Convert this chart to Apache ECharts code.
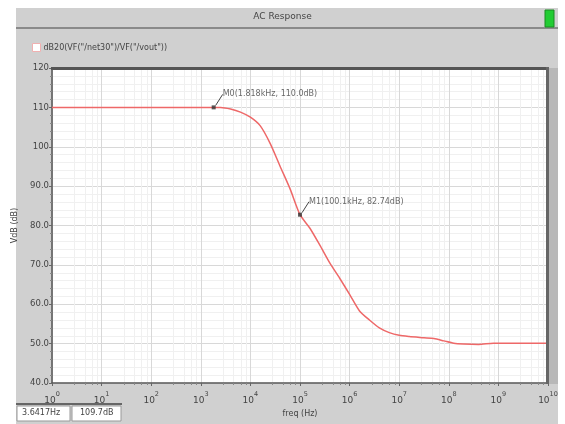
<!DOCTYPE html>
<html>
<head>
<meta charset="utf-8">
<script src="https://cdn.jsdelivr.net/npm/echarts@6/dist/echarts.min.js"></script>
<style>
html,body{margin:0;padding:0;background:#fff;}
#chart{width:565px;height:424px;}
</style>
</head>
<body>
<div id="chart"></div>
<script>
// ---- data ----
const seriesName = 'dB20(VF("/net30")/VF("/vout"))';
const freqHz = [1, 100, 1000, 1818, 2512, 3981, 6310, 10000, 15850, 25120, 39810, 63100,
  100100, 158500, 251200, 398100, 631000, 1000000, 1585000, 2512000, 3981000, 6310000,
  10000000, 15850000, 31620000, 50120000, 79430000, 125900000, 199500000, 398100000,
  794300000, 10000000000];
const gainDb = [110, 110, 110, 110, 110, 109.6, 108.8, 107.5, 105.3, 100.8, 95.0, 89.3,
  82.74, 79.3, 75.0, 70.5, 66.6, 62.5, 58.3, 56.0, 54.0, 52.8,
  52.1, 51.8, 51.5, 51.3, 50.7, 50.1, 49.9, 49.8,
  50.1, 50.1];
const markerNames = ['M0', 'M1'];
const markerFreq = [1818, 100100];
const markerDb = [110.0, 82.74];
const markerText = ['M0(1.818kHz, 110.0dB)', 'M1(100.1kHz, 82.74dB)'];
const yTicks = ['40.0', '50.0', '60.0', '70.0', '80.0', '90.0', '100', '110', '120'];
const cursorCells = ['3.6417Hz', '109.7dB'];

const chart = echarts.init(document.getElementById('chart'));
const font = 'DejaVu Sans';
const option = {
  animation: false,
  textStyle: {fontFamily: font},
  graphic: [
    {type: 'rect', z: -10, shape: {x: 16, y: 8, width: 542, height: 416}, style: {fill: '#d0d0d0'}},
    {type: 'rect', z: -9, shape: {x: 16, y: 27, width: 542, height: 2}, style: {fill: '#8a8a8a'}},
    {type: 'rect', z: -9, shape: {x: 545, y: 10, width: 9, height: 17}, style: {fill: '#22cc33', stroke: '#1a8a22', lineWidth: 1}},
    {type: 'text', left: 'center', top: 12, style: {text: 'AC Response', fontSize: 9, fill: '#444', fontFamily: font}},
    {type: 'rect', z: -9, shape: {x: 548, y: 68, width: 10, height: 316}, style: {fill: '#b8b8b8'}},
    {type: 'rect', z: 10, shape: {x: 51, y: 67, width: 498, height: 3}, style: {fill: '#555'}},
    {type: 'rect', z: 10, shape: {x: 546, y: 67, width: 3, height: 317}, style: {fill: '#666'}},
    {type: 'rect', z: 5, shape: {x: 16, y: 403, width: 106, height: 2}, style: {fill: '#666'}},
    {type: 'rect', z: 5, shape: {x: 17, y: 406, width: 53, height: 15}, style: {fill: '#fff', stroke: '#999', lineWidth: 1}},
    {type: 'rect', z: 5, shape: {x: 72, y: 406, width: 49, height: 15}, style: {fill: '#fff', stroke: '#999', lineWidth: 1}},
    {type: 'text', z: 6, left: 22, top: 409, style: {text: cursorCells[0], fontSize: 8, fill: '#444', fontFamily: font}},
    {type: 'text', z: 6, left: 80, top: 409, style: {text: cursorCells[1], fontSize: 8, fill: '#444', fontFamily: font}}
  ],
  legend: {
    left: 27, top: 38, icon: 'rect', itemWidth: 8, itemHeight: 8, itemGap: 4,
    data: [{name: seriesName, itemStyle: {color: '#fff', borderColor: '#f0b0b0', borderWidth: 1}}],
    textStyle: {fontSize: 8, color: '#444', padding: [0, 0, 0, -2]}
  },
  grid: {left: 52, top: 68, right: 17, bottom: 41, backgroundColor: '#fff', show: true, borderWidth: 0},
  xAxis: {
    type: 'log', logBase: 10, min: 1, max: 1e10, interval: 1,
    name: 'freq (Hz)', nameLocation: 'middle', nameGap: 24,
    nameTextStyle: {fontSize: 8, color: '#444'},
    axisLine: {lineStyle: {color: '#555', width: 1.5}},
    axisTick: {show: true, length: 3, lineStyle: {color: '#666'}},
    minorTick: {show: true, splitNumber: 5, length: 2, lineStyle: {color: '#888'}},
    splitLine: {show: true, lineStyle: {color: '#d8d8d8', width: 1}},
    minorSplitLine: {show: true, lineStyle: {color: '#f0f0f0', width: 1}},
    axisLabel: {
      margin: 7,
      formatter: v => '{b|10}{s|' + Math.round(Math.log10(v)) + '}',
      rich: {
        b: {fontSize: 9, color: '#444', padding: [6, 0, 0, 0]},
        s: {fontSize: 6.5, color: '#444', padding: [0, 0, 7, 0]}
      }
    }
  },
  yAxis: {
    type: 'value', min: 40, max: 120, interval: 10,
    name: 'VdB (dB)', nameLocation: 'middle', nameGap: 25, nameRotate: 90,
    nameTextStyle: {fontSize: 8, color: '#444'},
    axisLine: {show: true, lineStyle: {color: '#555', width: 1.5}},
    axisTick: {show: true, length: 3, lineStyle: {color: '#666'}},
    minorTick: {show: true, splitNumber: 5, length: 2, lineStyle: {color: '#888'}},
    splitLine: {show: true, lineStyle: {color: '#d8d8d8', width: 1}},
    minorSplitLine: {show: true, lineStyle: {color: '#f0f0f0', width: 1}},
    axisLabel: {
      fontSize: 8.5, color: '#444', margin: 3,
      formatter: v => yTicks[Math.round((v - 40) / 10)]
    }
  },
  series: [
    {
      name: seriesName, type: 'line', smooth: 0.25, showSymbol: false,
      data: freqHz.map((f, i) => [f, gainDb[i]]),
      lineStyle: {color: '#ee6868', width: 1.5},
      itemStyle: {color: '#ee6868'}
    },
    {
      name: 'markers', type: 'scatter', symbol: 'rect', symbolSize: 4,
      data: markerFreq.map((f, i) => ({value: [f, markerDb[i]], name: markerNames[i]})),
      itemStyle: {color: '#333'},
      label: {
        show: true, position: 'right', fontSize: 8, color: '#444',
        formatter: p => markerText[p.dataIndex]
      },
      labelLayout: {dx: 2, dy: -13},
      labelLine: {show: true, lineStyle: {color: '#444', width: 1}},
      z: 5
    }
  ]
};
chart.setOption(option);
</script>
</body>
</html>
